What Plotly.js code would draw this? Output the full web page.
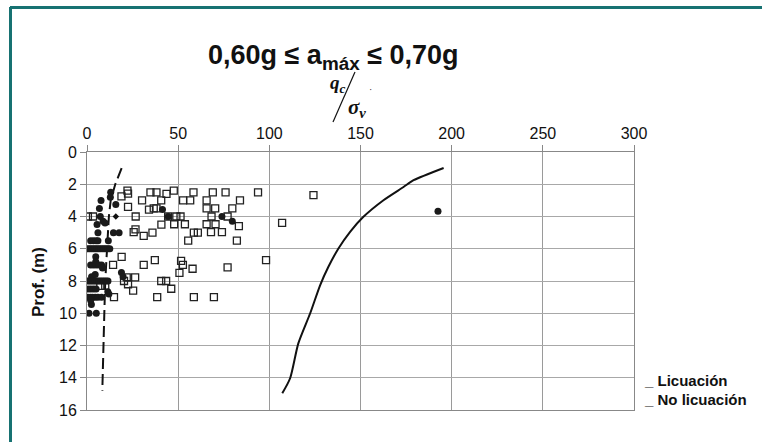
<!DOCTYPE html>
<html>
<head>
<meta charset="utf-8">
<script src="https://cdn.plot.ly/plotly-3.0.1.min.js"></script>
<style>html,body{margin:0;padding:0;background:#fff;}#chart{width:762px;height:442px;}</style>
</head>
<body>
<div id="chart"></div>
<script>
// Licuación (filled circles)
const liqX = [13,12.8,7.7,15.8,6.8,41.4,7.3,44.5,74,79.7,8.8,9.9,5.5,6,14.5,17.6,11.7,
  2,3.5,5,6,
  0.5,1.5,2.5,3.5,4.5,5.5,6.5,7.5,8.5,9.5,10.5,11.5,12.5,
  4.8,4.8,
  2,3.5,5,6.5,8,
  8.5,18.9,19.8,2.5,4.5,
  0.5,1.5,2.5,3.5,4.5,5.5,6.5,7.5,8.5,9.5,10.5,11.5,
  11.4,12,
  0.5,2,3.5,5,
  0.5,1.8,3,4.5,6,8,
  2.4,2,
  1.1,5.1,
  192.5];
const liqY = [2.5,2.8,3.0,3.25,3.5,3.57,4.0,4.0,4.0,4.3,4.3,4.4,4.5,5.0,5.0,5.0,5.5,
  5.5,5.5,5.5,5.5,
  6,6,6,6,6,6,6,6,6,6,6,6,6,
  6.5,6.8,
  7,7,7,7,7,
  7.2,7.47,7.74,7.74,7.6,
  8,8,8,8,8,8,8,8,8,8,8,8,
  8.67,8.8,
  8.5,8.5,8.5,8.5,
  9,9,9,9,9,9,
  9.45,9.2,
  10,10,
  3.67];
// No licuación (open squares)
const noLiqX = [0.5,3.3,18.9,22.2,22.5,22.5,30.2,26.7,26.6,25.6,31.1,34,36.6,38.1,34.8,38.1,40.7,43.6,47.6,40.8,35.9,44.5,49,51.3,47.8,53.7,52.7,56.6,58.4,55.5,58.6,60.8,65.6,65.6,69,70.3,68.3,65.6,70.5,68,74,76,77.1,79.7,83.9,83.3,82.2,93.8,107,124.2,98.2,19,14.3,31.1,37.2,51.6,52.6,50.7,57.9,77.1,20.3,21.8,22.5,26.4,25.3,40.7,43.4,46.2,14.8,38.5,58.6,69.6,10,7.3];
const noLiqY = [4,4,2.75,2.4,2.58,3.4,3.0,4.0,4.8,4.97,5.2,3.57,3.5,3.5,2.5,2.5,3.0,2.6,2.4,4.5,5.0,4.0,4.0,4.0,4.48,4.48,3.0,3.0,2.5,5.5,5.0,5.0,3.0,3.5,2.5,3.5,4.0,4.48,4.48,4.97,4.97,2.5,4.0,3.5,3.0,4.6,5.5,2.5,4.4,2.68,6.7,6.5,7.0,7.0,6.7,6.75,7.0,7.5,7.24,7.16,8.0,7.78,8.2,7.78,8.6,8.0,8.0,8.48,9.0,9.0,9.0,9.0,8.3,8.3];
// small diamond
const diaX = [15.8];
const diaY = [4.0];
// dashed boundary curve
const dashX = [19,15.5,13,12,11,10,9.5,9,8.6,8.4];
const dashY = [1,2,3,4,6,8,10,12,14,14.8];
// solid boundary curve
const curveX = [195.6,179.1,173.6,162.6,151.6,144.3,137.9,132.4,127.9,122.4,115.9,111.4,107.1];
const curveY = [0.99,1.75,2.17,2.99,4.02,4.95,5.98,7.12,8.25,10.0,11.87,14.03,14.96];

const xTicks = [0,50,100,150,200,250,300];
const yTicks = [0,2,4,6,8,10,12,14,16];

const L=87, R=634, T=152, B=410, W=762, H=442;
const px = v => (v - L) / (R - L);
const py = v => (B - v) / (B - T);

const traces = [
  {x: dashX, y: dashY, mode:'lines', line:{color:'#111', width:2, dash:'11px,5px'}, showlegend:false, hoverinfo:'skip'},
  {x: curveX, y: curveY, mode:'lines', line:{color:'#111', width:2, shape:'spline', smoothing:0.7}, showlegend:false},
  {x: noLiqX, y: noLiqY, mode:'markers', name:'No licuación',
   marker:{symbol:'square-open', size:7, color:'#222', line:{width:1.3, color:'#222'}}, showlegend:false},
  {x: liqX, y: liqY, mode:'markers', name:'Licuación',
   marker:{symbol:'circle', size:7, color:'#1a1a1a'}, showlegend:false},
  {x: diaX, y: diaY, mode:'markers', marker:{symbol:'diamond', size:5, color:'#111'}, showlegend:false}
];

const font = 'Liberation Sans, Arial, sans-serif';
const serif = 'Liberation Serif, Times New Roman, serif';
const layout = {
  width: W, height: H,
  margin: {l: L, r: W - R, t: T, b: H - B},
  paper_bgcolor: '#fff', plot_bgcolor: '#fff',
  showlegend: false,
  font: {family: font, color: '#111', size: 16},
  xaxis: {
    side: 'top', range: [0, 300], tickvals: xTicks, ticktext: xTicks.map(String),
    showgrid: true, gridcolor: '#9a9a9a', gridwidth: 1,
    showline: true, linecolor: '#888', linewidth: 1, mirror: true,
    ticks: 'outside', ticklen: 6, tickcolor: '#888',
    zeroline: false, tickfont: {size: 16, family: font, color: '#111'}, fixedrange: true
  },
  yaxis: {
    range: [16, 0], tickvals: yTicks, ticktext: yTicks.map(String),
    showgrid: true, gridcolor: '#a8a8a8', gridwidth: 1,
    showline: true, linecolor: '#888', linewidth: 1, mirror: true,
    ticks: 'outside', ticklen: 6, tickcolor: '#888',
    zeroline: false, tickfont: {size: 16, family: font, color: '#111'}, fixedrange: true
  },
  shapes: [
    {type:'line', xref:'paper', yref:'paper', x0:px(10), x1:px(762), y0:py(7.5), y1:py(7.5), line:{color:'#177272', width:3}},
    {type:'line', xref:'paper', yref:'paper', x0:px(10.5), x1:px(10.5), y0:py(7), y1:py(442), line:{color:'#177272', width:3}},
    {type:'line', xref:'paper', yref:'paper', x0:px(333), x1:px(355), y0:py(122), y1:py(72), line:{color:'#111', width:1.2}}
  ],
  annotations: [
    {xref:'paper', yref:'paper', x:px(333), y:py(57), text:'<b>0,60g ≤ a<sub>máx</sub> ≤ 0,70g</b>', showarrow:false,
     xanchor:'center', yanchor:'middle', font:{size:27, family:font, color:'#111'}},
    {xref:'paper', yref:'paper', x:px(338), y:py(84), text:'<b><i>q<sub>c</sub></i></b>', showarrow:false,
     xanchor:'center', yanchor:'middle', font:{size:19, family:serif, color:'#111'}},
    {xref:'paper', yref:'paper', x:px(357), y:py(108), text:'<b><i>σ<sub>v</sub></i></b>', showarrow:false,
     xanchor:'center', yanchor:'middle', font:{size:21, family:serif, color:'#111'}},
    {xref:'paper', yref:'paper', x:px(370), y:py(92), text:'\u02D9', showarrow:false,
     xanchor:'center', yanchor:'middle', font:{size:10, family:serif, color:'#111'}},
    {xref:'paper', yref:'paper', x:px(38), y:py(282), text:'<b>Prof. (m)</b>', textangle:-90, showarrow:false,
     xanchor:'center', yanchor:'middle', font:{size:17, family:font, color:'#111'}},
    {xref:'paper', yref:'paper', x:px(642), y:py(380), text:'<b>_ Licuación</b>', showarrow:false,
     xanchor:'left', yanchor:'middle', font:{size:15, family:font, color:'#111'}},
    {xref:'paper', yref:'paper', x:px(642), y:py(399), text:'<b>_ No licuación</b>', showarrow:false,
     xanchor:'left', yanchor:'middle', font:{size:15, family:font, color:'#111'}}
  ]
};

Plotly.newPlot('chart', traces, layout, {displayModeBar: false, staticPlot: true});
</script>
</body>
</html>
